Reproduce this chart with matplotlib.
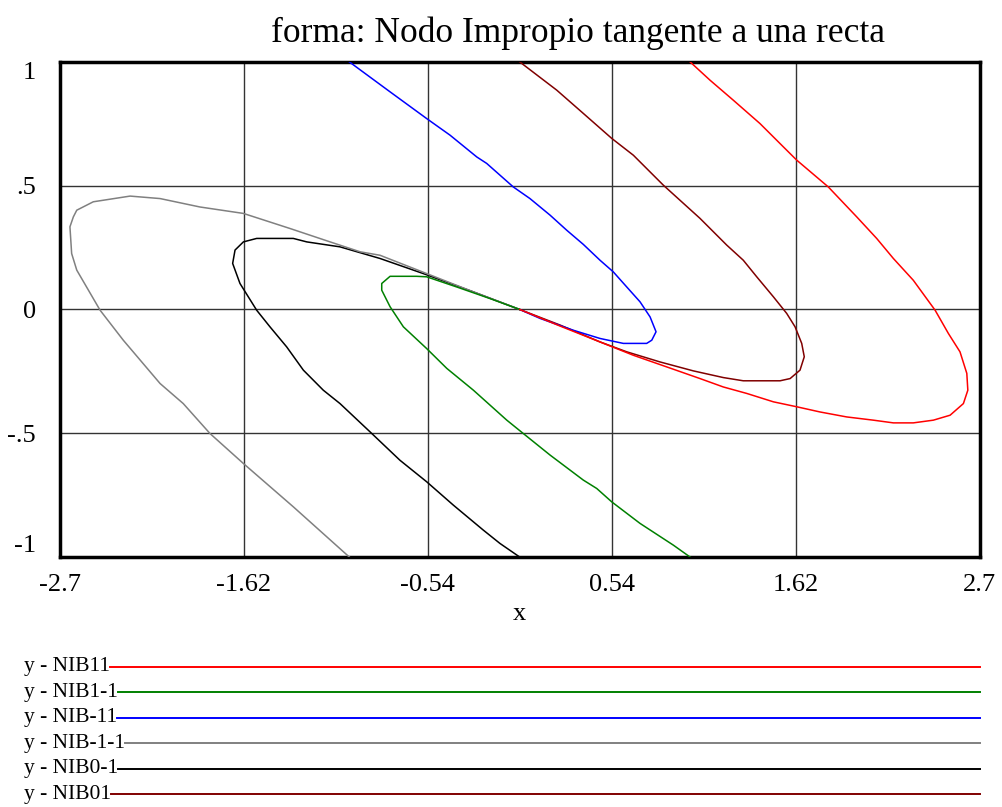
import matplotlib
matplotlib.use("Agg")
import matplotlib.pyplot as plt
from matplotlib.lines import Line2D

# Trajectories (x, y)
nib11_x = [1.0, 1.117, 1.254, 1.410, 1.547, 1.626, 1.811, 1.978, 2.095, 2.193, 2.310, 2.438,
           2.516, 2.584, 2.624, 2.630, 2.604, 2.526, 2.428, 2.310, 2.193, 2.075, 1.919, 1.763,
           1.626, 1.489, 1.332, 1.195, 1.058, 0.863, 0.667, 0.471, 0.237, 0.0]
nib11_y = [1.0, 0.926, 0.845, 0.751, 0.657, 0.603, 0.495, 0.374, 0.287, 0.206, 0.118, -0.003,
           -0.097, -0.171, -0.258, -0.326, -0.380, -0.427, -0.447, -0.458, -0.458, -0.447, -0.434, -0.414,
           -0.393, -0.373, -0.339, -0.313, -0.279, -0.232, -0.185, -0.131, -0.067, 0.0]

nib01_x = [0.0, 0.217, 0.373, 0.540, 0.667, 0.843, 1.058, 1.215, 1.312, 1.391, 1.489, 1.567,
           1.616, 1.655, 1.670, 1.645, 1.587, 1.528, 1.312, 1.195, 1.019, 0.824, 0.628, 0.471,
           0.237, 0.0]
nib01_y = [1.0, 0.886, 0.792, 0.691, 0.623, 0.502, 0.368, 0.260, 0.199, 0.132, 0.051, -0.016,
           -0.070, -0.137, -0.191, -0.245, -0.279, -0.288, -0.288, -0.275, -0.248, -0.212, -0.171, -0.131,
           -0.063, 0.0]

nib_11_x = [-1.0, -0.761, -0.546, -0.409, -0.252, -0.194, -0.038, 0.060, 0.178, 0.276, 0.373,
            0.471, 0.549, 0.628, 0.706, 0.765, 0.800, 0.775, 0.745, 0.608, 0.471, 0.315, 0.119, 0.0]
nib_11_y = [1.0, 0.879, 0.771, 0.704, 0.616, 0.590, 0.495, 0.448, 0.381, 0.320, 0.263,
            0.199, 0.152, 0.091, 0.031, -0.030, -0.090, -0.124, -0.137, -0.137, -0.117, -0.084, -0.036, 0.0]

nib1_1_x = [1.0, 0.902, 0.706, 0.540, 0.452, 0.373, 0.178, 0.021, -0.076, -0.272, -0.428, -0.546,
            -0.683, -0.761, -0.810, -0.810, -0.761, -0.605, -0.546, -0.370, -0.174, 0.0]
nib1_1_y = [-1.0, -0.952, -0.864, -0.777, -0.723, -0.689, -0.588, -0.501, -0.447, -0.326, -0.238, -0.158,
            -0.070, 0.011, 0.078, 0.105, 0.134, 0.134, 0.132, 0.091, 0.044, 0.0]

nib_1_1_x = [-1.0, -1.329, -1.622, -1.818, -1.975, -2.111, -2.327, -2.463, -2.600, -2.630, -2.640,
             -2.620, -2.600, -2.503, -2.287, -2.111, -1.877, -1.622, -1.348, -1.113, -0.937, -0.820,
             -0.546, -0.272, 0.0]
nib_1_1_y = [-1.0, -0.797, -0.622, -0.501, -0.380, -0.299, -0.124, -0.003, 0.159, 0.226, 0.334,
             0.374, 0.401, 0.435, 0.458, 0.448, 0.414, 0.388, 0.327, 0.273, 0.233, 0.219,
             0.145, 0.071, 0.0]

nib0_1_x = [0.0, -0.116, -0.214, -0.390, -0.546, -0.703, -0.879, -1.055, -1.153, -1.270, -1.368,
            -1.466, -1.544, -1.642, -1.685, -1.671, -1.622, -1.544, -1.329, -1.250, -1.055, -0.820,
            -0.566, -0.272, 0.0]
nib0_1_y = [-1.0, -0.945, -0.891, -0.790, -0.696, -0.609, -0.494, -0.380, -0.326, -0.245, -0.151,
            -0.070, -0.003, 0.105, 0.186, 0.240, 0.273, 0.287, 0.287, 0.273, 0.253, 0.206,
            0.145, 0.071, 0.0]

x_ticks = [-2.7, -1.62, -0.54, 0.54, 1.62, 2.7]
x_labels = ["-2.7", "-1.62", "-0.54", "0.54", "1.62", "2.7"]
y_ticks = [1, 0.5, 0, -0.5, -1]
y_labels = ["1", ".5", "0", "-.5", "-1"]

legend_labels = ["y - NIB11", "y - NIB1-1", "y - NIB-11", "y - NIB-1-1", "y - NIB0-1", "y - NIB01"]
legend_colors = ["#ff0000", "#008000", "#0000ff", "#808080", "#000000", "#800000"]

plt.rcParams["font.family"] = ["Liberation Serif", "DejaVu Serif"]

fig = plt.figure(figsize=(10.02, 8.07), dpi=100)
ax = fig.add_axes([0.0596, 0.3097, 0.9182, 0.6136])

series = [
    (nib01_x, nib01_y, "#800000"),
    (nib_11_x, nib_11_y, "#0000ff"),
    (nib0_1_x, nib0_1_y, "#000000"),
    (nib_1_1_x, nib_1_1_y, "#808080"),
    (nib1_1_x, nib1_1_y, "#008000"),
    (nib11_x, nib11_y, "#ff0000"),
]
for xs, ys, c in series:
    ax.plot(xs, ys, color=c, lw=1.1, zorder=3)

ax.set_xlim(-2.7, 2.7)
ax.set_ylim(-1, 1)
ax.set_xticks(x_ticks)
ax.set_xticklabels(x_labels, fontsize=19)
ax.set_yticks(y_ticks)
ax.set_yticklabels(y_labels, fontsize=19)
ax.tick_params(axis="both", length=0)
ax.tick_params(axis="x", pad=12)
ax.tick_params(axis="y", pad=17)
ylabs = ax.get_yticklabels()
ylabs[0].set_va("top")
ylabs[-1].set_va("bottom")

for v in x_ticks[1:-1]:
    ax.axvline(v, color="#333333", lw=1.0, zorder=1)
for v in [0.5, 0, -0.5]:
    ax.axhline(v, color="#333333", lw=1.0, zorder=1)

for s in ax.spines.values():
    s.set_linewidth(2.5)
    s.set_color("black")

ax.set_xlabel("x", fontsize=19, labelpad=5)
fig.suptitle("forma: Nodo Impropio tangente a una recta", fontsize=25.5, x=0.577, y=0.98)

# legend rows below the chart
row_y = [666.7, 692, 717.7, 743.3, 768.7, 794]
fig.canvas.draw()
renderer = fig.canvas.get_renderer()
for lab, col, yp in zip(legend_labels, legend_colors, row_y):
    yf = 1 - yp / 807
    t = fig.text(24 / 1002, yf, lab, fontsize=15.5, va="center", ha="left")
    bb = t.get_window_extent(renderer=renderer)
    x0 = bb.x1 / fig.bbox.width
    fig.add_artist(Line2D([x0, 980 / 1002], [yf, yf], color=col, lw=1.4,
                          transform=fig.transFigure))

fig.savefig("out.png", dpi=100)
